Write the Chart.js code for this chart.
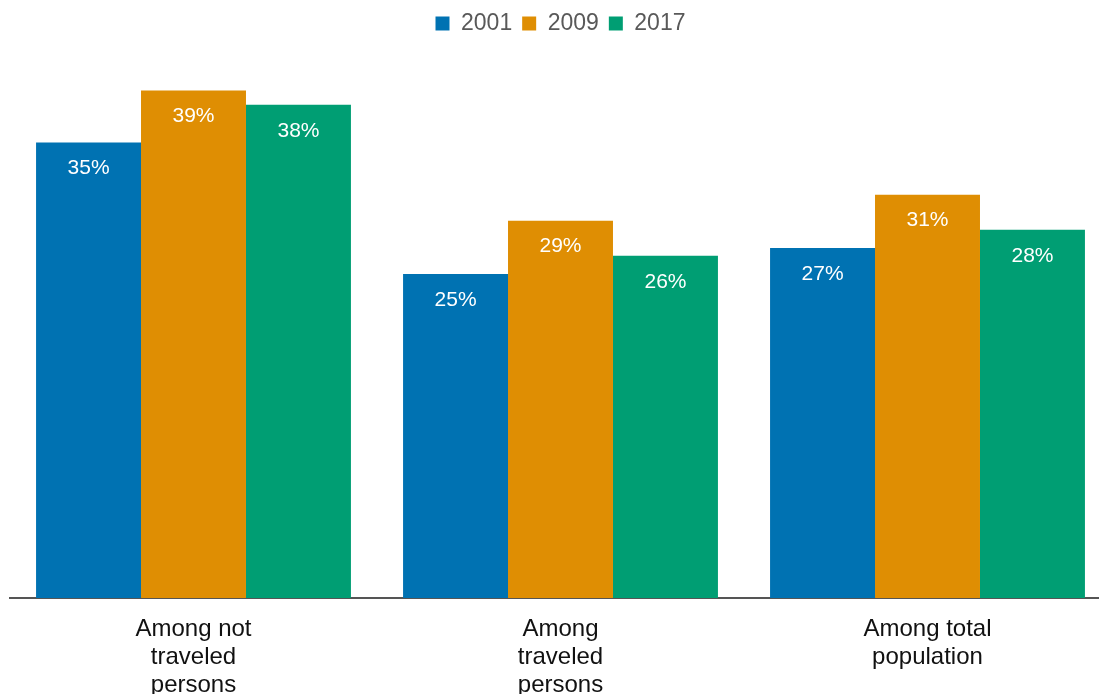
<!DOCTYPE html>
<html>
<head>
<meta charset="utf-8">
<script src="https://cdn.jsdelivr.net/npm/chart.js@4/dist/chart.umd.min.js"></script>
<style>
html,body{margin:0;padding:0;background:#fff;overflow:hidden;width:1099px;height:694px;}
#wrap{position:absolute;left:0;top:0;width:1111px;height:716px;}
</style>
</head>
<body>
<div id="wrap"><canvas id="c" width="1111" height="716"></canvas></div>
<script>
const categories = [["Among not","traveled","persons"],["Among","traveled","persons"],["Among total","population"]];
const seriesNames = ["2001","2009","2017"];
const values2001 = [35, 24.9, 26.9];
const values2009 = [39, 29, 31];
const values2017 = [37.9, 26.3, 28.3];
const colors = ["#0072B2","#DF8E03","#009E73"];

const labelPlugin = {
  id: 'barLabels',
  afterDatasetsDraw(chart) {
    const ctx = chart.ctx;
    ctx.save();
    ctx.fillStyle = '#ffffff';
    ctx.font = '21px "Liberation Sans", Arial, sans-serif';
    ctx.textAlign = 'center';
    ctx.textBaseline = 'middle';
    chart.data.datasets.forEach((ds, i) => {
      chart.getDatasetMeta(i).data.forEach((bar, j) => {
        ctx.fillText(Math.round(ds.data[j]) + '%', bar.x, bar.y + 26);
      });
    });
    ctx.restore();
  }
};

new Chart(document.getElementById('c'), {
  type: 'bar',
  data: {
    labels: categories,
    datasets: [
      {label: seriesNames[0], data: values2001, backgroundColor: colors[0]},
      {label: seriesNames[1], data: values2009, backgroundColor: colors[1]},
      {label: seriesNames[2], data: values2017, backgroundColor: colors[2]}
    ]
  },
  options: {
    responsive: false,
    animation: false,
    devicePixelRatio: 1,
    layout: {padding: {left: 10, right: 0, top: 2, bottom: 0}},
    datasets: {bar: {categoryPercentage: 0.858, barPercentage: 1.0}},
    plugins: {
      legend: {
        position: 'top',
        labels: {
          boxWidth: 14, boxHeight: 14, padding: 10,
          color: '#595959',
          font: {family: '"Liberation Sans", Arial, sans-serif', size: 23}
        }
      },
      tooltip: {enabled: false}
    },
    scales: {
      x: {
        grid: {display: false, drawTicks: false},
        border: {display: true, color: '#555555', width: 2},
        ticks: {
          color: '#111111', maxRotation: 0, autoSkip: false, padding: 17,
          font: {family: '"Liberation Sans", Arial, sans-serif', size: 24, lineHeight: 1.167}
        }
      },
      y: {
        display: false,
        min: 0, max: 42.5,
        grid: {display: false}
      }
    }
  },
  plugins: [labelPlugin]
});
</script>
</body>
</html>
